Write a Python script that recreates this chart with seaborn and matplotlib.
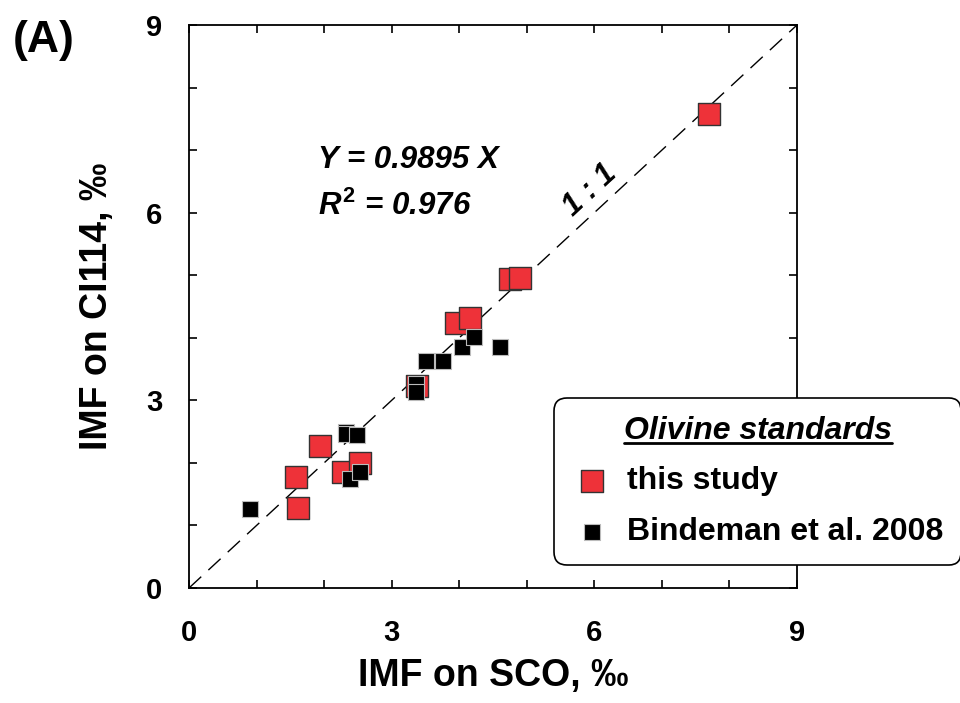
import matplotlib
matplotlib.use("Agg")
import matplotlib.pyplot as plt
import seaborn as sns
from matplotlib.ticker import MultipleLocator
from matplotlib.lines import Line2D

# IMF values (permil)
# this study - red squares
this_sco = [7.70, 4.75, 4.90, 3.95, 4.16, 3.37, 1.94, 1.58, 1.61, 2.28, 2.53]
this_ci = [7.58, 4.94, 4.96, 4.24, 4.32, 3.23, 2.27, 1.77, 1.28, 1.85, 2.00]
# Bindeman et al. 2008 - black squares
bind_sco = [0.90, 2.32, 2.32, 2.49, 2.38, 2.53, 3.36, 3.36, 3.51, 3.76, 4.04, 4.22, 4.60]
bind_ci = [1.26, 2.50, 2.46, 2.45, 1.74, 1.86, 3.26, 3.13, 3.63, 3.63, 3.85, 4.01, 3.85]

tick_vals = [0, 3, 6, 9]
fit_text = "Y = 0.9895 X"
r2_text = "$R^{2}$ = 0.976"

sns.set_style("ticks")
plt.rcParams['font.family'] = ['Liberation Sans', 'DejaVu Sans']
plt.rcParams['font.weight'] = 'bold'
plt.rcParams['text.color'] = 'black'
plt.rcParams['axes.labelcolor'] = 'black'
plt.rcParams['xtick.color'] = 'black'
plt.rcParams['ytick.color'] = 'black'
plt.rcParams['mathtext.fontset'] = 'custom'
plt.rcParams['mathtext.it'] = 'Liberation Sans:italic:bold'
plt.rcParams['mathtext.rm'] = 'Liberation Sans:bold'

fig = plt.figure(figsize=(9.6, 7.03), dpi=100)
ax = fig.add_axes([189 / 960, 1 - 588 / 703, 608 / 960, 563 / 703])

# 1:1 line
ax.plot([0, 9], [0, 9], color='black', lw=1.0, dashes=(12, 7), zorder=1)

sns.scatterplot(x=this_sco, y=this_ci, marker='s', s=250, color='#EE3239',
                edgecolor='#333333', linewidth=1.0, label='this study', ax=ax, zorder=2)
sns.scatterplot(x=bind_sco, y=bind_ci, marker='s', s=144, color='black',
                edgecolor='#bbbbbb', linewidth=0.8, label='Bindeman et al. 2008', ax=ax, zorder=3)

ax.set_xlim(0, 9)
ax.set_ylim(0, 9)
ax.set_xticks(tick_vals)
ax.set_yticks(tick_vals)
ax.xaxis.set_minor_locator(MultipleLocator(1))
ax.yaxis.set_minor_locator(MultipleLocator(1))
ax.tick_params(which='both', direction='in', top=True, right=True, length=5.5, width=1.2, color='black')
ax.tick_params(axis='x', which='major', labelsize=21, pad=22)
ax.tick_params(axis='y', which='major', labelsize=21, pad=19)
for sp in ax.spines.values():
    sp.set_linewidth(1.3)
    sp.set_color('black')

ax.set_xlabel("IMF on SCO, \u2030", fontsize=27, fontweight='bold')
ax.set_ylabel("IMF on CI114, \u2030", fontsize=27, fontweight='bold')
ax.xaxis.set_label_coords(0.5, -0.125)
ax.yaxis.set_label_coords(-0.122, 0.5)

ax.text(1.91, 6.71, fit_text, fontsize=22.5, fontweight='bold', style='italic', va='baseline', ha='left')
ax.text(1.91, 5.96, r2_text, fontsize=22.5, fontweight='bold', style='italic', va='baseline', ha='left')
ax.text(5.93, 6.36, "1 : 1", fontsize=22, fontweight='bold', style='italic', rotation=42.8,
        rotation_mode='anchor', ha='center', va='center')

fig.text(13 / 960, 1 - 52 / 703, "(A)", fontsize=32, fontweight='bold', va='baseline', ha='left')

leg = ax.legend(loc='upper left', bbox_to_anchor=(554 / 960, 1 - 398 / 703), bbox_transform=fig.transFigure,
                borderaxespad=0, fontsize=23, title="Olivine standards", frameon=True, fancybox=True,
                framealpha=1, edgecolor='black', handlelength=1.3, handletextpad=0.45,
                labelspacing=0.65, borderpad=0.55)
leg.get_title().set_fontsize(23)
leg.get_title().set_fontweight('bold')
leg.get_title().set_fontstyle('italic')
leg.get_frame().set_linewidth(1.2)
leg.get_frame().set_boxstyle('round', pad=0, rounding_size=0.4)

# underline the legend title
fig.canvas.draw()
tb = leg.get_title().get_window_extent(fig.canvas.get_renderer())
inv = fig.transFigure.inverted()
(ux0, uy), (ux1, _) = inv.transform([[tb.x0, tb.y0 + 3], [tb.x1, tb.y0 + 3]])
fig.add_artist(Line2D([ux0, ux1], [uy, uy], color='black', lw=2, transform=fig.transFigure))

fig.savefig("out.png", dpi=100)
